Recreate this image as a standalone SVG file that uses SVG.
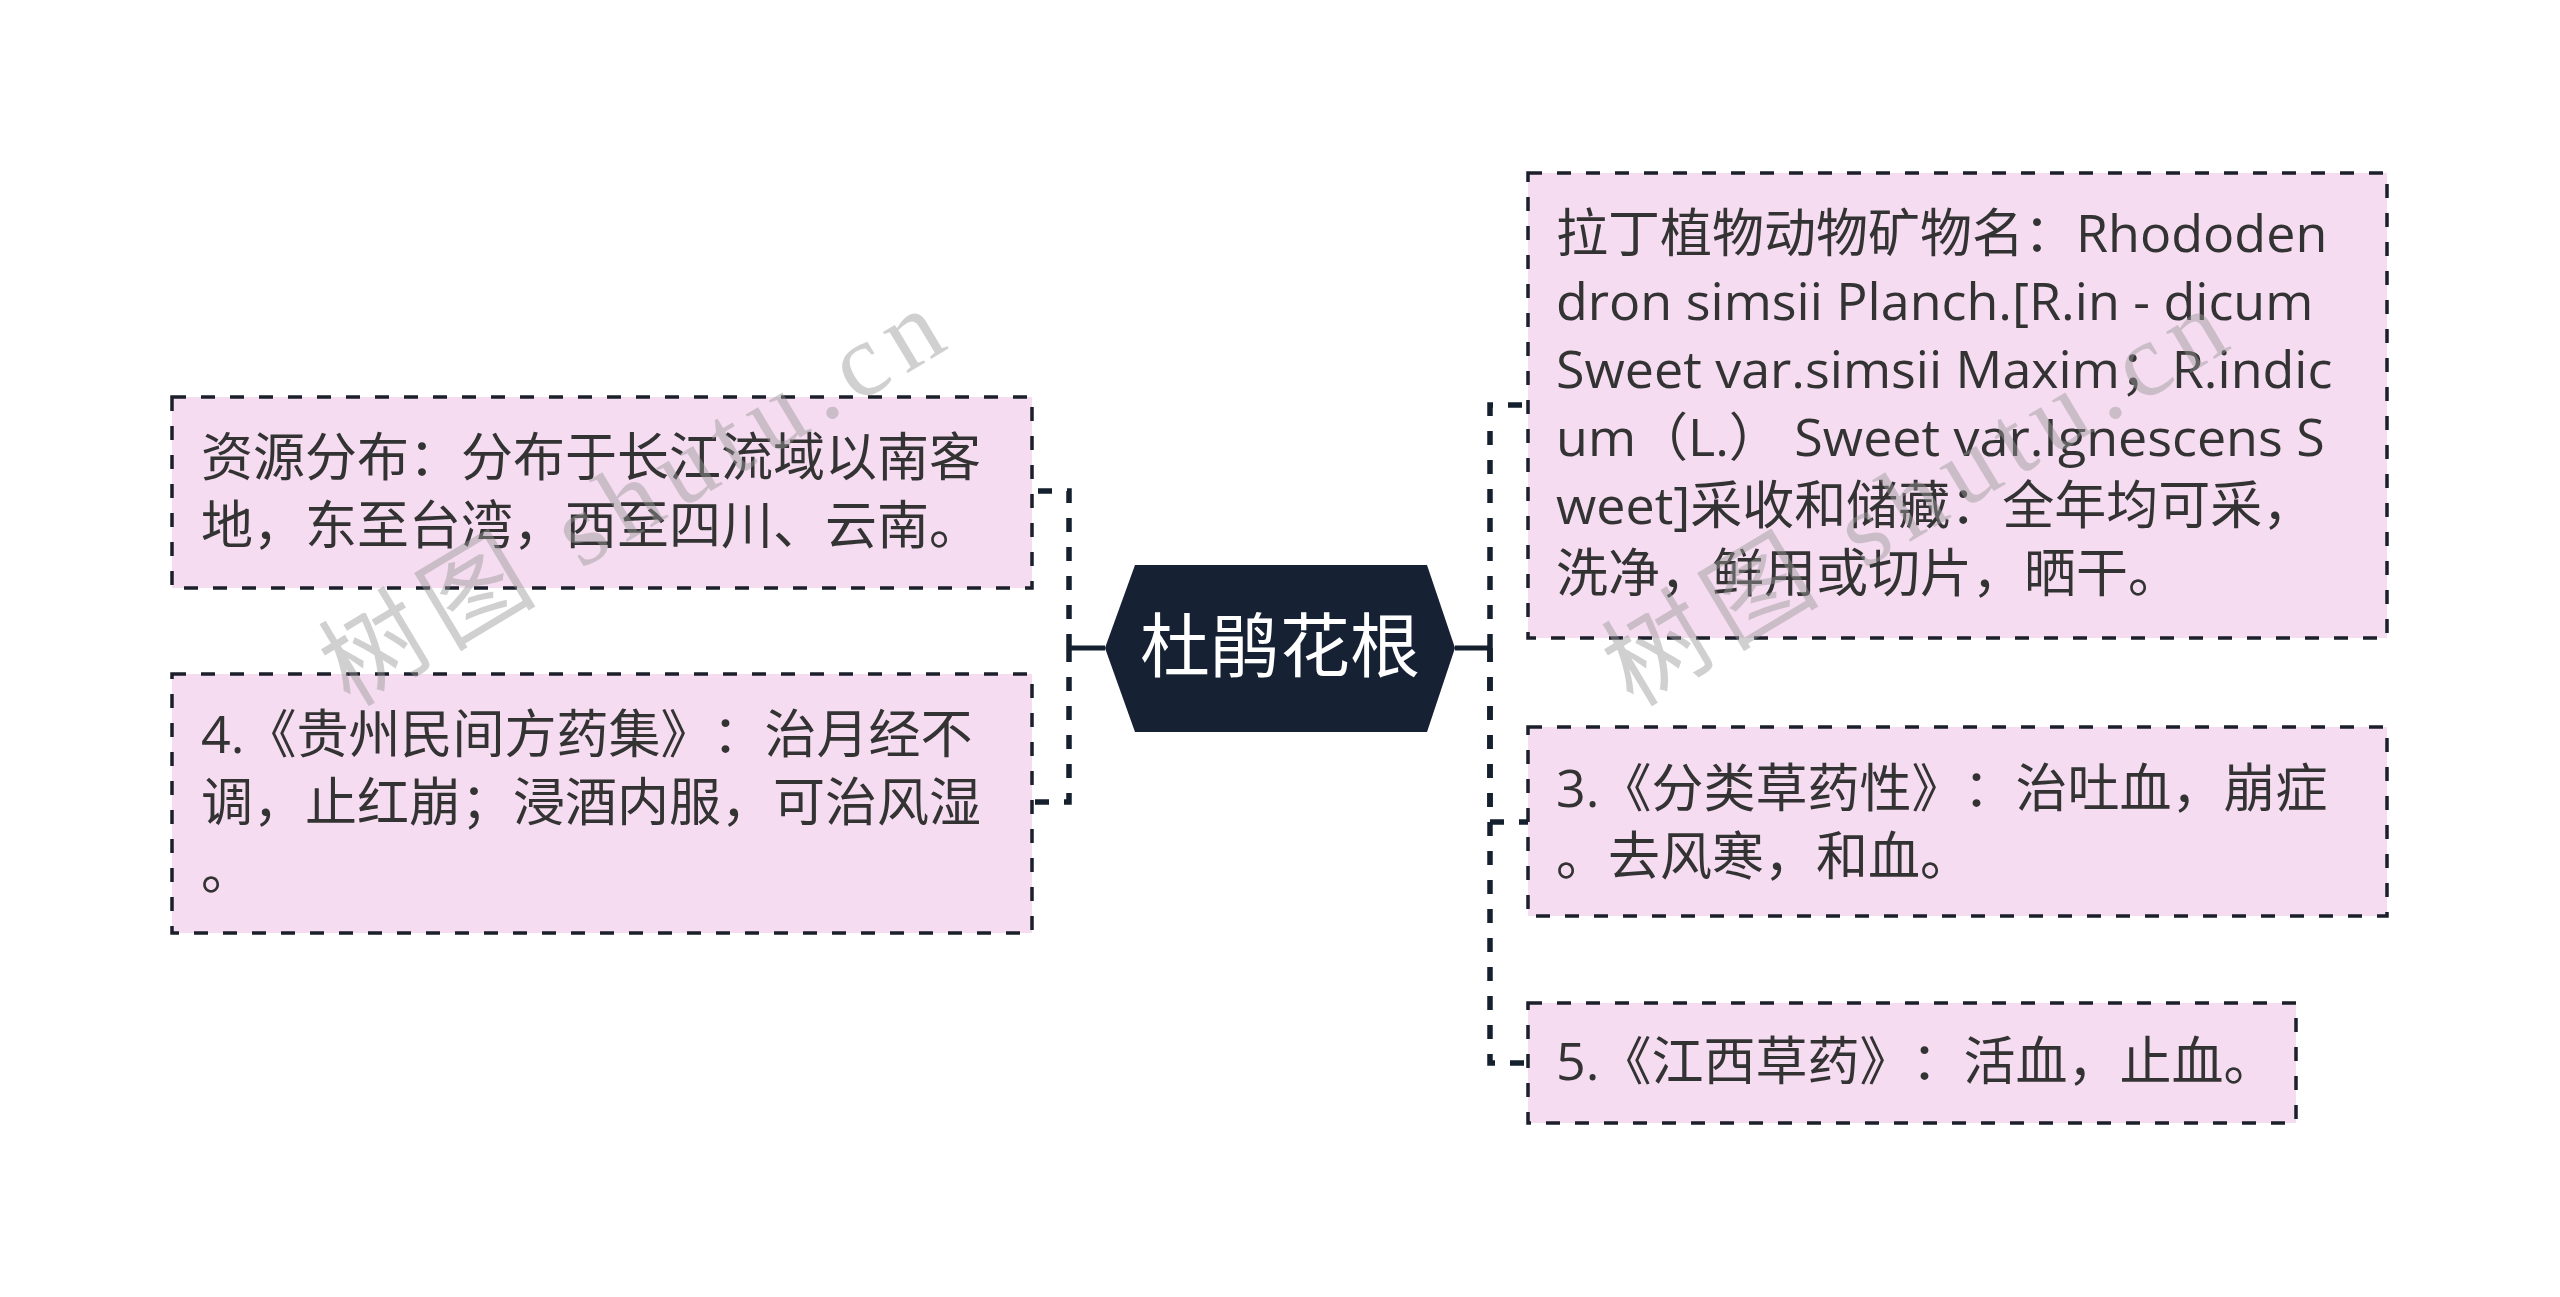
<svg xmlns="http://www.w3.org/2000/svg" width="2560" height="1297" viewBox="0 0 2560 1297">
<style>
.box{fill:#f5dcf0;stroke:#1b1f2a;stroke-width:3.5;stroke-dasharray:14 15}
.t{font-family:"Open Sans","Noto Sans CJK SC",sans-serif;font-size:52px;fill:#333333;text-spacing-trim:space-all}
.conn{fill:none;stroke:#15202f;stroke-width:5.5;stroke-dasharray:14 15}
.solid{fill:none;stroke:#15202f;stroke-width:5}
.wm{font-family:"Liberation Serif","Noto Sans CJK SC",serif;font-size:104px;fill:#999999;opacity:0.45}
</style>
<rect width="2560" height="1297" fill="#ffffff"/>
<g id="connectors">
<path class="solid" d="M1105,648 H1069"/>
<path class="conn" d="M1069,648 V491 H1032"/>
<path class="conn" d="M1069,648 V802 H1032"/>
<path class="solid" d="M1455,648 H1490"/>
<path class="conn" d="M1490,648 V405 H1528"/>
<path class="conn" d="M1490,648 V822 H1528"/>
<path class="conn" d="M1490,648 V1063 H1528"/>
</g>
<g id="root">
<polygon points="1105,648 1135,565 1427,565 1455,648 1427,732 1135,732" fill="#162234"/>
<text x="1280" y="672" text-anchor="middle" font-family="'Noto Sans CJK SC',sans-serif" font-size="70" fill="#ffffff">杜鹃花根</text>
</g>
<g id="node-l1">
<rect class="box" x="172" y="397" width="860" height="191"/>
<text class="t"><tspan x="201" y="476">资源分布：分布于长江流域以南客</tspan><tspan x="201" y="544">地，东至台湾，西至四川、云南。</tspan></text>
</g>
<g id="node-l2">
<rect class="box" x="172" y="674" width="860" height="259"/>
<text class="t"><tspan x="201" y="753">4.《贵州民间方药集》：治月经不</tspan><tspan x="201" y="821">调，止红崩；浸酒内服，可治风湿</tspan><tspan x="201" y="889">。</tspan></text>
</g>
<g id="node-r1">
<rect class="box" x="1528" y="173" width="859" height="465"/>
<text class="t"><tspan x="1556" y="252">拉丁植物动物矿物名：Rhododen</tspan><tspan x="1556" y="320">dron simsii Planch.[R.in - dicum</tspan><tspan x="1556" y="388">Sweet var.simsii Maxim；R.indic</tspan><tspan x="1556" y="456">um（L.） Sweet var.Ignescens S</tspan><tspan x="1556" y="524">weet]采收和储藏：全年均可采，</tspan><tspan x="1556" y="592">洗净，鲜用或切片，晒干。</tspan></text>
</g>
<g id="node-r2">
<rect class="box" x="1528" y="727" width="859" height="189"/>
<text class="t"><tspan x="1556" y="807">3.《分类草药性》：治吐血，崩症</tspan><tspan x="1556" y="875">。去风寒，和血。</tspan></text>
</g>
<g id="node-r3">
<rect class="box" x="1528" y="1003" width="768" height="120"/>
<text class="t"><tspan x="1556" y="1080">5.《江西草药》：活血，止血。</tspan></text>
</g>
<g id="watermarks">
<text class="wm" transform="translate(350,708) rotate(-31)" textLength="700" lengthAdjust="spacing">树图 shutu.cn</text>
<text class="wm" transform="translate(1633,708) rotate(-31)" textLength="700" lengthAdjust="spacing">树图 shutu.cn</text>
</g>
</svg>
